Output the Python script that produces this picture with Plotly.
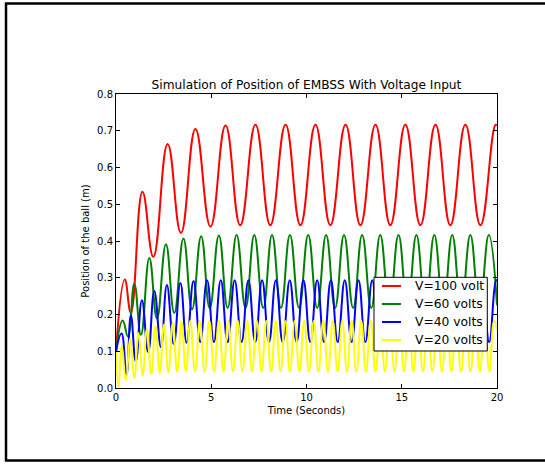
import plotly.graph_objects as go

# Ball position (m) versus time (s) for four input voltages.
# Each list holds (time, position) pairs at the turning points of the response.
red_points = [
    (0.00, 0.100), (0.46, 0.295), (0.78, 0.205), (1.39, 0.534), (1.96, 0.357),
    (2.71, 0.664), (3.41, 0.422), (4.17, 0.705), (4.96, 0.439), (5.75, 0.714),
    (6.52, 0.443), (7.32, 0.716), (8.10, 0.443), (8.90, 0.716), (9.68, 0.443),
    (10.47, 0.716), (11.25, 0.443), (12.05, 0.716), (12.83, 0.443), (13.62, 0.716),
    (14.40, 0.443), (15.19, 0.716), (15.98, 0.443), (16.77, 0.716), (17.55, 0.443),
    (18.34, 0.716), (19.13, 0.443), (19.92, 0.716), (20.00, 0.714),
]

green_points = [
    (0.00, 0.100), (0.35, 0.184), (0.63, 0.140), (0.96, 0.284), (1.31, 0.145),
    (1.75, 0.354), (2.15, 0.189), (2.62, 0.391), (3.06, 0.204), (3.54, 0.407),
    (3.99, 0.214), (4.47, 0.413), (4.92, 0.217), (5.40, 0.415), (5.86, 0.218),
    (6.33, 0.416), (6.80, 0.218), (7.26, 0.416), (7.73, 0.218), (8.19, 0.416),
    (8.66, 0.218), (9.13, 0.416), (9.61, 0.218), (10.09, 0.416), (10.56, 0.218),
    (11.03, 0.416), (11.50, 0.218), (11.97, 0.416), (12.45, 0.218), (12.92, 0.416),
    (13.40, 0.218), (13.87, 0.416), (14.35, 0.218), (14.83, 0.416), (15.30, 0.218),
    (15.77, 0.416), (16.24, 0.218), (16.71, 0.416), (17.18, 0.218), (17.65, 0.416),
    (18.12, 0.218), (18.60, 0.416), (19.08, 0.218), (19.57, 0.416), (20.00, 0.225),
]

blue_points = [
    (0.00, 0.100), (0.29, 0.148), (0.55, 0.036), (0.78, 0.198), (1.04, 0.072),
    (1.36, 0.239), (1.69, 0.098), (2.01, 0.264), (2.36, 0.111), (2.67, 0.280),
    (3.03, 0.120), (3.38, 0.286), (3.71, 0.123), (4.07, 0.291), (4.42, 0.125),
    (4.78, 0.293), (5.14, 0.125), (5.50, 0.293), (5.86, 0.125), (6.23, 0.293),
    (6.59, 0.125), (6.95, 0.293), (7.31, 0.125), (7.67, 0.293), (8.03, 0.125),
    (8.39, 0.293), (8.75, 0.125), (9.12, 0.293), (9.48, 0.125), (9.84, 0.293),
    (10.20, 0.125), (10.56, 0.293), (10.92, 0.125), (11.28, 0.293), (11.64, 0.125),
    (12.01, 0.293), (12.37, 0.125), (12.73, 0.293), (13.09, 0.125), (13.45, 0.293),
    (13.81, 0.125), (14.17, 0.293), (14.53, 0.125), (14.90, 0.293), (15.26, 0.125),
    (15.62, 0.293), (15.98, 0.125), (16.34, 0.293), (16.70, 0.125), (17.06, 0.293),
    (17.42, 0.125), (17.79, 0.293), (18.15, 0.125), (18.51, 0.293), (18.87, 0.125),
    (19.23, 0.293), (19.59, 0.125), (19.95, 0.293), (20.00, 0.292),
]

yellow_points = [
    (0.00, 0.100), (0.13, 0.005), (0.30, 0.115), (0.52, 0.020), (0.74, 0.135),
    (0.96, 0.028), (1.18, 0.150), (1.40, 0.034), (1.62, 0.160), (1.85, 0.038),
    (2.07, 0.168), (2.30, 0.041), (2.52, 0.173), (2.75, 0.043), (2.98, 0.177),
    (3.21, 0.044), (3.44, 0.180), (3.67, 0.045), (3.90, 0.182), (4.15, 0.045),
    (4.40, 0.182), (4.65, 0.045), (4.90, 0.182), (5.15, 0.045), (5.40, 0.182),
    (5.64, 0.045), (5.89, 0.182), (6.14, 0.045), (6.39, 0.182), (6.64, 0.045),
    (6.89, 0.182), (7.14, 0.045), (7.39, 0.182), (7.64, 0.045), (7.89, 0.182),
    (8.14, 0.045), (8.39, 0.182), (8.64, 0.045), (8.89, 0.182), (9.13, 0.045),
    (9.38, 0.182), (9.63, 0.045), (9.88, 0.182), (10.13, 0.045), (10.38, 0.182),
    (10.63, 0.045), (10.88, 0.182), (11.13, 0.045), (11.38, 0.182), (11.63, 0.045),
    (11.88, 0.182), (12.12, 0.045), (12.37, 0.182), (12.62, 0.045), (12.87, 0.182),
    (13.12, 0.045), (13.37, 0.182), (13.62, 0.045), (13.87, 0.182), (14.12, 0.045),
    (14.37, 0.182), (14.62, 0.045), (14.87, 0.182), (15.12, 0.045), (15.37, 0.182),
    (15.61, 0.045), (15.86, 0.182), (16.11, 0.045), (16.36, 0.182), (16.61, 0.045),
    (16.86, 0.182), (17.11, 0.045), (17.36, 0.182), (17.61, 0.045), (17.86, 0.182),
    (18.11, 0.045), (18.36, 0.182), (18.61, 0.045), (18.86, 0.182), (19.10, 0.045),
    (19.35, 0.182), (19.60, 0.045), (19.85, 0.182), (20.00, 0.160),
]

series_names = ["V=100 volt", "V=60 volts", "V=40 volts", "V=20 volts"]
series_colors = ["#ff0000", "#008000", "#0000ff", "#ffff00"]
series_points = [red_points, green_points, blue_points, yellow_points]

x_ticks = [0, 5, 10, 15, 20]
y_ticks = [0.0, 0.1, 0.2, 0.3, 0.4, 0.5, 0.6, 0.7, 0.8]

FONT = "DejaVu Sans"

fig = go.Figure()
for name, color, pts in zip(series_names, series_colors, series_points):
    t = [p[0] for p in pts]
    v = [p[1] for p in pts]
    fig.add_trace(go.Scatter(
        x=t, y=v, mode="lines", name=name, showlegend=False,
        line=dict(color=color, width=2, shape="spline", smoothing=1.3),
    ))

axis_common = dict(
    showline=True, linecolor="black", linewidth=1, mirror="allticks",
    ticks="inside", ticklen=4, tickwidth=1, tickcolor="black",
    showgrid=False, zeroline=False,
    tickfont=dict(family=FONT, size=10, color="black"),
)

fig.update_xaxes(
    range=[0, 20], tickvals=x_ticks,
    title=dict(text="Time (Seconds)", font=dict(family=FONT, size=10, color="black"), standoff=4),
    **axis_common,
)
fig.update_yaxes(
    range=[0, 0.8], tickvals=y_ticks, tickformat=".1f",
    title=dict(text="Position of the ball (m)", font=dict(family=FONT, size=10, color="black"), standoff=5),
    **axis_common,
)

# Outer frame around the whole figure
shapes = [dict(
    type="rect", xref="paper", yref="paper",
    x0=-0.2887, x1=1.2, y0=-0.2466, y1=1.3078,
    line=dict(color="black", width=2.5), fillcolor="rgba(0,0,0,0)",
    layer="above",
)]

# Compact legend box in the lower right of the axes (paper coordinates)
legend_box = dict(x0=0.6772, x1=0.9745, y0=0.1259, y1=0.3765)
legend_rows = [0.3469, 0.2857, 0.2245, 0.1633]
sample_x = (0.6982, 0.7480)
label_x = 0.7803

shapes.append(dict(
    type="rect", xref="paper", yref="paper", layer="above",
    line=dict(color="black", width=1), fillcolor="white", **legend_box,
))
annotations = []
for name, color, row in zip(series_names, series_colors, legend_rows):
    shapes.append(dict(
        type="line", xref="paper", yref="paper", layer="above",
        x0=sample_x[0], x1=sample_x[1], y0=row, y1=row,
        line=dict(color=color, width=2),
    ))
    annotations.append(dict(
        text=name, xref="paper", yref="paper", x=label_x, y=row,
        xanchor="left", yanchor="middle", showarrow=False,
        font=dict(family=FONT, size=12.3, color="black"),
    ))

fig.update_layout(
    width=545, height=465,
    margin=dict(l=116, r=48, t=94, b=77),
    paper_bgcolor="white", plot_bgcolor="white",
    font=dict(family=FONT, color="black"),
    title=dict(
        text="Simulation of Position of EMBSS With Voltage Input",
        font=dict(family=FONT, size=12.2, color="black"),
        x=0.5, xref="paper", xanchor="center",
        y=1 - 85 / 465, yref="container", yanchor="middle",
    ),
    shapes=shapes,
    annotations=annotations,
)

fig.write_html("out.html")
